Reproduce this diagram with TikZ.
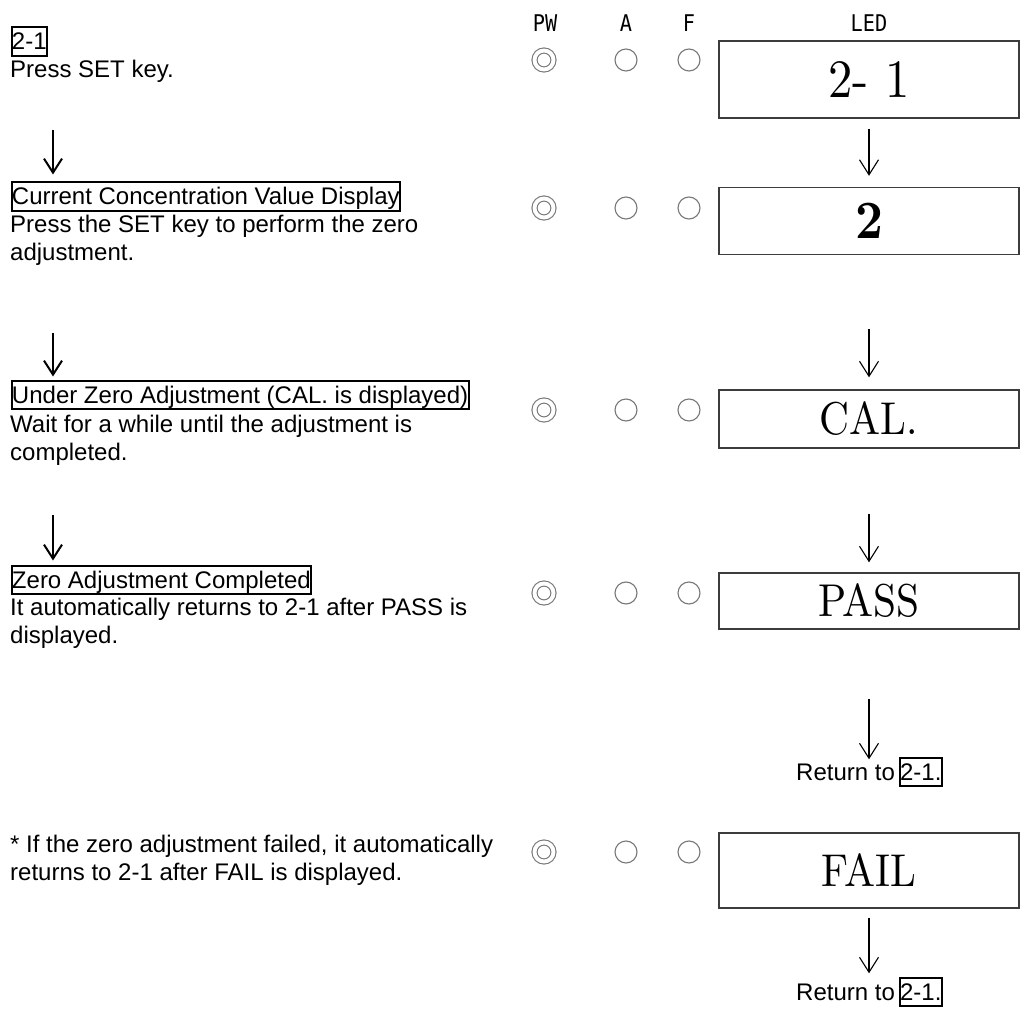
\documentclass[tikz,border=0pt]{standalone}
\usepackage{fontspec}
\usepackage{graphicx}
\usepackage{tikz}
\usetikzlibrary{positioning,arrows.meta,calc}
\newfontfamily\bodyfont{Liberation Sans}
\newfontfamily\hdrfont[FakeStretch=0.88]{DejaVu Sans Mono}
\newfontfamily\ledfont{lmroman10-regular.otf}
\newfontfamily\ledbold{lmroman10-bold.otf}
\definecolor{lampGray}{RGB}{120,120,120}
\definecolor{ledLine}{RGB}{60,60,60}
\tikzset{
  head/.style={draw=black, line width=2pt, inner xsep=0.5pt, inner ysep=1.5pt,
               text height=21pt, text depth=4.5pt,
               anchor=base west, font=\bodyfont\fontsize{24}{28}\selectfont},
  body/.style={anchor=base west, inner sep=0pt, align=left,
               font=\bodyfont\fontsize{24}{28}\selectfont},
  hdr/.style={anchor=base, inner sep=0pt, font=\hdrfont\fontsize{23}{23}\selectfont},
  led/.style={rectangle, draw=ledLine, line width=1.4pt, minimum width=300pt,
              inner sep=0pt, font=\ledfont},
  lamp/.style={circle, draw=lampGray, line width=1.1pt, minimum size=22pt, inner sep=0pt},
  pwlamp/.style={circle, draw=lampGray, line width=1.1pt, double, double distance=3.9pt,
                 minimum size=19pt, inner sep=0pt},
  flowL/.style={-{Straight Barb[length=14pt,width=18pt]}, line width=2pt},
  flowR/.style={-{Straight Barb[length=15pt,width=19pt]}, line width=1.1pt},
}
\newcommand{\LampRow}[2]{%
  \node[pwlamp] (pw#1) at (544,#2) {};
  \node[lamp]   (a#1)  at (626,#2) {};
  \node[lamp]   (f#1)  at (689,#2) {};}
\newcommand{\ledtext}[2]{\fontsize{#1}{#1}\selectfont\scalebox{0.9}[1]{#2}}

\begin{document}
\begin{tikzpicture}[x=1pt,y=-1pt]
  \useasboundingbox (0,0) rectangle (1029,1019);

  % column heads
  \node[hdr] (hPW)  at (545,32) {PW};
  \node[hdr] (hA)   at (626,32) {A};
  \node[hdr] (hF)   at (689,32) {F};
  \node[hdr] (hLED) at (869,32) {LED};

  % left column: steps (base of a two-line text is its last line)
  \node[head] (step1) at (10.5,50) {2-1};
  \node[body] (txt1)  at (10,78) {Press SET key.};
  \node[head] (step2) at (10.5,205) {Current Concentration Value Display};
  \node[body] (txt2)  at (10,261) {Press the SET key to perform the zero\\adjustment.};
  \node[head] (step3) at (10.5,403) {Under Zero Adjustment (CAL. is displayed)};
  \node[body] (txt3)  at (10,460) {Wait for a while until the adjustment is\\completed.};
  \node[head] (step4) at (10.5,588) {Zero Adjustment Completed};
  \node[body] (txt4)  at (10,643) {It automatically returns to 2-1 after PASS is\\displayed.};
  \node[body] (note)  at (10,880) {* If the zero adjustment failed, it automatically\\returns to 2-1 after FAIL is displayed.};

  \coordinate (la1) at (53,130);
  \coordinate (la2) at (53,333);
  \coordinate (la3) at (53,515);
  \draw[flowL, shorten >=7pt] (la1) -- (la1 |- step2.north);
  \draw[flowL, shorten >=3pt] (la2) -- (la2 |- step3.north);
  \draw[flowL, shorten >=4pt] (la3) -- (la3 |- step4.north);

  % lamps
  \LampRow{1}{60}
  \LampRow{2}{208}
  \LampRow{3}{410}
  \LampRow{4}{593}
  \LampRow{5}{852}

  % LED displays
  \node[led, minimum height=77pt] (led1) at (869,79.5) {\ledtext{54}{2- 1}};
  \node[led, minimum height=67pt] (led2) at (869,221) {\ledtext{54}{\ledbold 2}};
  \node[led, minimum height=58pt] (led3) at (869,419) {\ledtext{46}{CAL.}};
  \node[led, minimum height=56pt] (led4) at (869,601) {\ledtext{46}{PASS}};
  \node[led, minimum height=75pt] (led5) at (869,870.5) {\ledtext{46}{FAIL}};

  \node[body] (ret1) at (796,780) {Return to};
  \node[head] (ret1b) at ([xshift=3.5pt]ret1.base east) {2-1.};
  \node[body] (ret2) at (796,1000) {Return to};
  \node[head] (ret2b) at ([xshift=3.5pt]ret2.base east) {2-1.};

  \draw[flowR, shorten <=10pt, shorten >=11pt] (led1) -- (led2);
  \draw[flowR, shorten <=74pt, shorten >=12pt] (led2) -- (led3);
  \draw[flowR, shorten <=65pt, shorten >=10pt] (led3) -- (led4);
  \draw[flowR, shorten <=69pt, shorten >=4pt] (led4.south) -- (led4.south |- ret1.north);
  \draw[flowR, shorten <=9pt, shorten >=10pt] (led5.south) -- (led5.south |- ret2.north);
\end{tikzpicture}
\end{document}
